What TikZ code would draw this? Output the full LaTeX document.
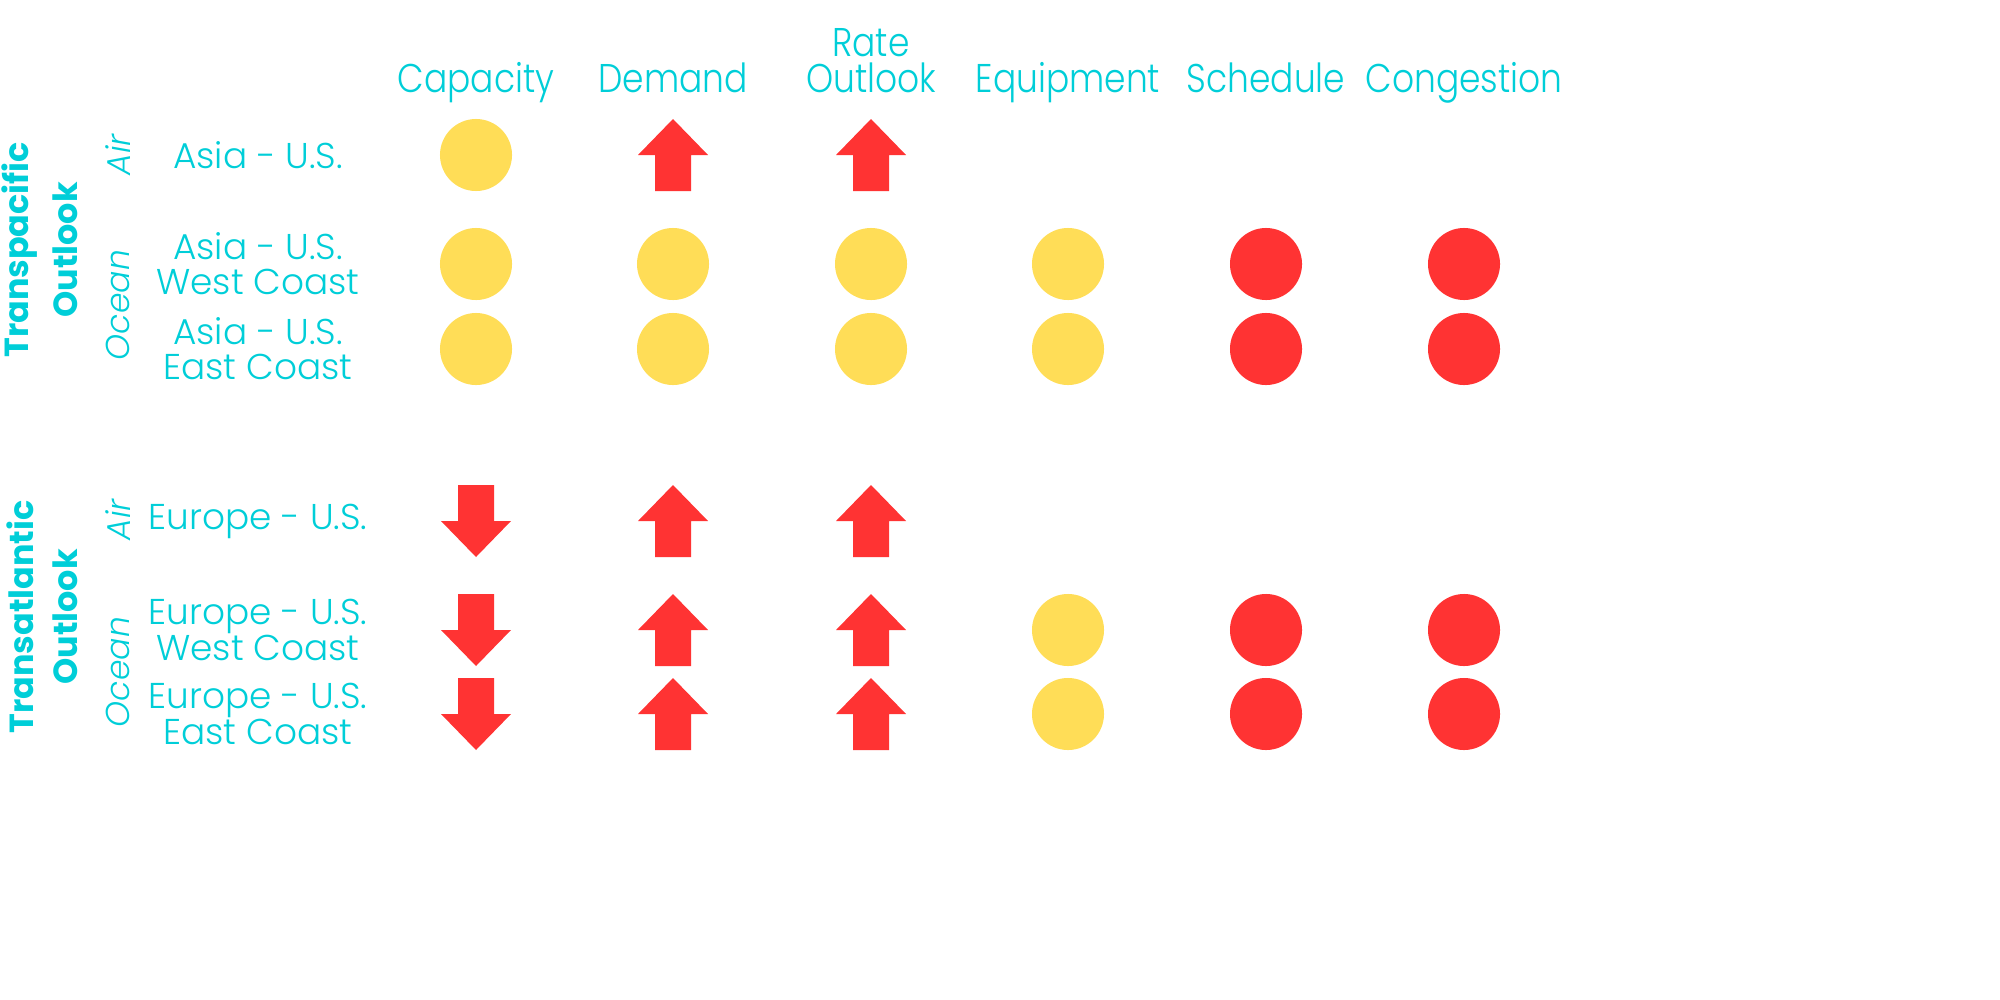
\documentclass[tikz,border=0pt]{standalone}
\usepackage{fontspec}
\setmainfont{Poppins}[UprightFont=* Light, ItalicFont=* Light Italic, BoldFont=* Bold]
\usetikzlibrary{positioning}
\definecolor{tealtext}{RGB}{0,206,216}
\definecolor{dotyellow}{RGB}{255,221,87}
\definecolor{arrowred}{RGB}{255,51,51}

\begin{document}
\begin{tikzpicture}[x=0.01cm,y=-0.01cm,
        every node/.style={text=tealtext},
        header/.style={font=\fontsize{11.4}{10}\selectfont,align=center,xscale=0.86,anchor=base},
        route/.style={font=\fontsize{10.2}{10}\selectfont,align=center},
        region/.style={font=\bfseries\fontsize{9.5}{12}\selectfont,rotate=90},
        mode/.style={font=\itshape\fontsize{9.4}{12}\selectfont,rotate=90},
        dot/.style={circle,minimum size=0.72cm,inner sep=0pt},
        flat/.style={dot,fill=dotyellow},
        high/.style={dot,fill=arrowred},
        uparrow/.pic={\fill[arrowred] (-35,0) -- (0,-36) -- (35,0) -- (18,0) -- (18,36) -- (-18,36) -- (-18,0) -- cycle;},
        downarrow/.pic={\fill[arrowred] (-35,0) -- (0,36) -- (35,0) -- (18,0) -- (18,-36) -- (-18,-36) -- (-18,0) -- cycle;}]
        \useasboundingbox (0,0) rectangle (2000,1000);
        % column headers
        \node[header] (capacity) at (476,92) {Capacity};
        \node[header] (demand) at (673,92) {Demand};
        \node[header] (rate) at (871,92) {Rate\\Outlook};
        \node[header] (equipment) at (1068,92) {Equipment};
        \node[header] (schedule) at (1266,92) {Schedule};
        \node[header] (congestion) at (1464,92) {Congestion};
        % transpacific
        \node[region] (tp-title) at (20,250) {Transpacific};
        \node[region] (tp-outlook) at (65,250) {Outlook};
        \node[mode] (tp-air) at (118,155) {Air};
        \node[mode] (tp-ocean) at (118,305) {Ocean};
        \node[route] (asia-us) at (258,155) {Asia - U.S.};
        \node[route] (asia-wc) at (258,264) {Asia - U.S.\\West Coast};
        \node[route] (asia-ec) at (258,349) {Asia - U.S.\\East Coast};
        \node[flat] (asia-us-cap) at (476,155) {};
        \foreach \x in {673,871} \pic (asia-us-\x) at (\x,155) {uparrow};
        \foreach \y/\r in {264/wc,349/ec} {
            \foreach \x in {476,673,871,1068} \node[flat] (asia-\r-\x) at (\x,\y) {};
            \foreach \x in {1266,1464} \node[high] (asia-\r-\x) at (\x,\y) {};
        }
        % transatlantic
        \node[region] (ta-title) at (20,617) {Transatlantic};
        \node[region] (ta-outlook) at (65,617) {Outlook};
        \node[mode] (ta-air) at (118,520) {Air};
        \node[mode] (ta-ocean) at (118,672) {Ocean};
        \node[route] (europe-us) at (258,521) {Europe - U.S.};
        \node[route] (europe-wc) at (258,630) {Europe - U.S.\\West Coast};
        \node[route] (europe-ec) at (258,714) {Europe - U.S.\\East Coast};
        \foreach \y/\r in {521/us,630/wc,714/ec} {
            \pic (europe-\r-476) at (476,\y) {downarrow};
            \foreach \x in {673,871} \pic (europe-\r-\x) at (\x,\y) {uparrow};
        }
        \foreach \y/\r in {630/wc,714/ec} {
            \node[flat] (europe-\r-1068) at (1068,\y) {};
            \foreach \x in {1266,1464} \node[high] (europe-\r-\x) at (\x,\y) {};
        }
    \end{tikzpicture}
\end{document}
